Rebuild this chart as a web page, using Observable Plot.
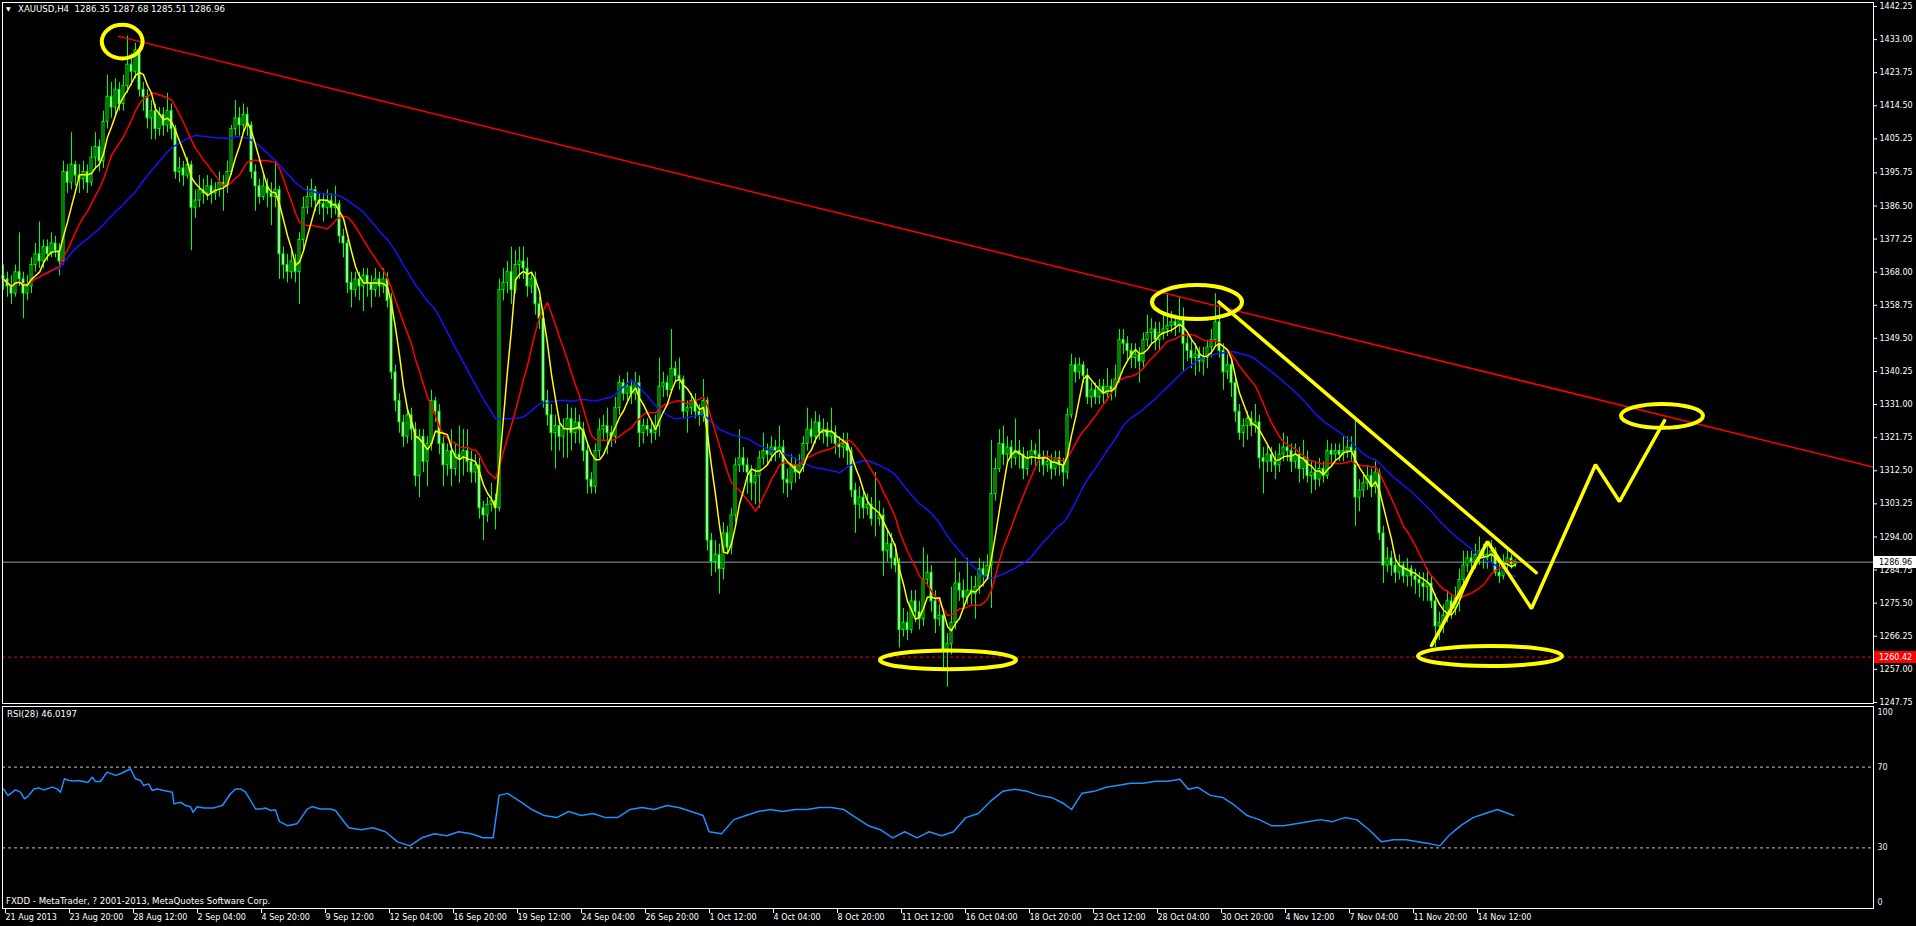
<!DOCTYPE html>
<html><head><meta charset="utf-8">
<script src="https://cdn.jsdelivr.net/npm/d3@7"></script>
<script src="https://cdn.jsdelivr.net/npm/@observablehq/plot@0.6"></script>
<style>
html,body{margin:0;padding:0;background:#000;}
#wrap{position:relative;width:1916px;height:926px;overflow:hidden;background:#000;font-family:"DejaVu Sans",sans-serif;}
#wrap svg{position:absolute;left:0;overflow:visible;}
.lbl{position:absolute;color:#fff;font-size:8.6px;white-space:pre;line-height:10px;font-family:"DejaVu Sans",sans-serif;}
</style></head><body><div id="wrap"></div>
<script>
// ---------- data (H4 bars, XAUUSD) ----------
const firstOpen = 1367;
const closes = [
1366,1364,1362,1368,1366,1362,1364,1370,1373,1371,
1375,1373,1376,1374,1371,1396,1393,1398,1395,1394,
1396,1393,1400,1403,1399,1410,1417,1414,1419,1415,
1420,1426,1424,1430,1419,1417,1411,1413,1408,1412,
1409,1413,1408,1396,1397,1395,1398,1386,1388,1391,
1390,1392,1390,1391,1393,1392,1396,1408,1411,1409,
1412,1409,1396,1392,1389,1392,1390,1389,1391,1373,
1370,1368,1371,1368,1377,1386,1389,1391,1388,1387,
1386,1388,1386,1387,1378,1376,1365,1363,1366,1364,
1367,1365,1363,1366,1364,1366,1360,1340,1332,1326,
1322,1328,1324,1311,1322,1315,1320,1332,1329,1320,
1314,1318,1313,1317,1316,1318,1315,1312,1314,1302,
1300,1303,1304,1302,1363,1365,1368,1363,1370,1371,
1369,1364,1366,1359,1355,1332,1328,1323,1325,1322,
1324,1327,1323,1326,1324,1318,1310,1308,1318,1324,
1325,1323,1322,1330,1337,1334,1336,1334,1337,1323,
1325,1324,1323,1325,1336,1337,1335,1341,1339,1338,
1329,1330,1332,1329,1328,1332,1293,1287,1289,1285,
1295,1291,1300,1314,1316,1314,1312,1309,1311,1316,
1318,1317,1319,1318,1319,1310,1309,1314,1312,1314,
1320,1324,1322,1326,1323,1324,1322,1323,1320,1319,
1320,1318,1307,1303,1305,1302,1303,1299,1299,1300,
1290,1292,1288,1286,1268,1270,1268,1276,1273,1271,
1282,1284,1276,1271,1272,1262,1264,1270,1281,1279,
1277,1279,1278,1280,1285,1283,1286,1306,1313,1320,
1317,1319,1316,1318,1317,1313,1316,1318,1317,1316,
1314,1315,1313,1316,1314,1312,1328,1342,1340,1342,
1339,1333,1335,1333,1336,1334,1336,1335,1338,1349,
1348,1346,1344,1345,1343,1349,1351,1352,1349,1351,
1352,1353,1354,1353,1355,1348,1346,1344,1345,1343,
1344,1347,1349,1354,1346,1340,1342,1337,1329,1323,
1325,1327,1325,1326,1316,1315,1317,1315,1314,1317,
1319,1318,1315,1317,1313,1316,1311,1312,1310,1313,
1311,1318,1317,1318,1317,1318,1319,1318,1305,1307,
1309,1311,1308,1312,1295,1286,1288,1286,1284,1286,
1283,1285,1283,1282,1281,1280,1281,1276,1269,1270,
1272,1276,1274,1277,1282,1286,1288,1287,1289,1290,
1288,1289,1290,1284,1283,1287,1288,1286.35,1286.96];
const highs = [
1370,1368,1367,1370,1379,1368,1367,1372,1376,1382,
1377,1377,1379,1378,1376,1399,1398,1407,1399,1398,
1399,1398,1403,1407,1405,1413,1423,1421,1422,1421,
1423,1434,1429,1432,1431,1421,1419,1416,1415,1414,
1414,1418,1415,1409,1400,1399,1400,1399,1391,1395,
1394,1395,1394,1393,1396,1395,1399,1409,1416,1414,
1415,1414,1410,1398,1394,1395,1394,1393,1399,1392,
1375,1373,1374,1373,1379,1389,1392,1394,1392,1390,
1390,1391,1390,1392,1388,1380,1377,1368,1368,1368,
1369,1369,1367,1369,1368,1369,1368,1362,1342,1334,
1328,1330,1330,1326,1324,1324,1322,1335,1333,1331,
1322,1320,1324,1320,1325,1324,1324,1318,1317,1316,
1304,1305,1309,1306,1366,1369,1371,1375,1374,1375,
1375,1372,1368,1368,1361,1357,1335,1331,1328,1327,
1327,1331,1330,1330,1328,1326,1320,1312,1320,1327,
1328,1330,1325,1333,1339,1338,1340,1338,1340,1339,
1327,1327,1326,1328,1344,1340,1339,1352,1343,1344,
1339,1332,1334,1334,1331,1338,1333,1295,1293,1292,
1298,1297,1302,1316,1324,1319,1316,1314,1313,1318,
1323,1320,1322,1321,1325,1321,1313,1317,1316,1317,
1322,1330,1327,1329,1328,1327,1326,1330,1325,1322,
1323,1323,1319,1309,1308,1307,1306,1305,1312,1304,
1302,1296,1295,1292,1288,1274,1273,1279,1279,1276,
1291,1289,1286,1279,1275,1274,1267,1280,1288,1284,
1282,1288,1283,1283,1288,1287,1289,1321,1316,1324,
1325,1322,1321,1327,1321,1319,1318,1321,1320,1324,
1318,1318,1317,1318,1318,1316,1330,1345,1344,1344,
1343,1341,1337,1337,1338,1338,1341,1338,1342,1352,
1352,1350,1348,1348,1347,1351,1356,1355,1354,1354,
1356,1362,1357,1356,1361,1358,1350,1349,1348,1347,
1347,1349,1352,1362,1360,1348,1345,1344,1339,1331,
1327,1329,1329,1331,1328,1319,1320,1319,1318,1320,
1323,1322,1320,1320,1319,1321,1318,1315,1315,1316,
1315,1321,1320,1320,1320,1322,1322,1322,1327,1310,
1312,1314,1313,1315,1313,1297,1291,1290,1288,1289,
1287,1288,1286,1285,1284,1284,1285,1283,1278,1273,
1275,1279,1278,1280,1285,1290,1290,1290,1292,1294,
1292,1292,1293,1291,1287,1289,1291,1289,1287.68];
const lows = [
1363,1361,1359,1361,1364,1355,1360,1362,1368,1369,
1369,1371,1372,1372,1367,1370,1390,1391,1392,1390,
1391,1390,1392,1397,1396,1397,1408,1411,1412,1413,
1413,1418,1420,1422,1417,1413,1408,1405,1405,1406,
1406,1407,1405,1394,1393,1392,1394,1374,1383,1386,
1387,1388,1387,1388,1389,1385,1390,1395,1406,1406,
1407,1406,1394,1385,1387,1388,1386,1381,1386,1366,
1366,1365,1366,1365,1359,1374,1384,1386,1385,1384,
1382,1384,1383,1384,1376,1372,1362,1358,1361,1360,
1357,1361,1358,1361,1361,1362,1358,1338,1329,1323,
1319,1320,1321,1308,1305,1312,1308,1318,1326,1317,
1308,1311,1308,1311,1309,1311,1312,1309,1309,1299,
1293,1298,1301,1296,1301,1360,1362,1359,1362,1366,
1366,1361,1362,1356,1352,1330,1325,1318,1313,1318,
1316,1316,1318,1320,1320,1315,1306,1306,1306,1316,
1321,1317,1319,1320,1328,1332,1332,1331,1332,1319,
1320,1322,1320,1321,1322,1333,1333,1334,1337,1335,
1327,1323,1328,1327,1325,1326,1290,1283,1284,1278,
1282,1289,1289,1298,1312,1312,1306,1304,1303,1302,
1314,1314,1315,1315,1316,1306,1305,1307,1309,1310,
1312,1318,1320,1320,1321,1320,1319,1320,1317,1316,
1316,1314,1305,1295,1299,1299,1300,1297,1294,1297,
1283,1287,1285,1284,1263,1266,1265,1267,1270,1268,
1269,1280,1273,1267,1269,1257,1252,1261,1268,1276,
1274,1275,1275,1271,1278,1280,1282,1274,1304,1312,
1314,1315,1313,1314,1313,1310,1311,1314,1313,1312,
1311,1312,1310,1311,1311,1308,1310,1327,1337,1338,
1337,1331,1330,1331,1331,1331,1332,1332,1333,1337,
1345,1343,1341,1341,1337,1341,1347,1348,1346,1346,
1349,1350,1351,1350,1351,1340,1343,1341,1339,1340,
1339,1341,1344,1347,1344,1335,1338,1333,1326,1321,
1319,1321,1322,1323,1313,1306,1312,1312,1310,1312,
1315,1315,1312,1313,1309,1310,1309,1306,1307,1308,
1309,1310,1314,1315,1315,1315,1316,1315,1297,1301,
1305,1307,1305,1306,1293,1281,1284,1283,1281,1282,
1281,1280,1280,1278,1277,1276,1276,1274,1263,1265,
1267,1270,1271,1272,1273,1280,1284,1284,1285,1286,
1285,1285,1287,1283,1281,1282,1285,1285,1285.51];

// RSI(28): bar position and value
const rsiBars = [0,1.1,3,4.25,5.25,6.3,7.6,8.8,10,12.2,13.4,14.25,15.25,16.3,17.6,18.8,21.1,22.2,23,24.25,25.9,28,29.25,31.75,33,34.25,35,36.3,37.2,38.4,40.1,42.2,42.6,44.25,45.5,46.75,47.4,48.4,50.1,52.6,54.7,56.75,58,59.25,60.5,61.75,63,64.25,65.5,66.75,68,69,71,73.4,76,77.2,79.25,81.75,83,84.25,86.3,89.4,92.4,95.5,98.5,101.6,104.6,107.7,110.8,113.8,116.9,119.9,122.4,123.9,126,129.1,132.1,135.2,138.3,141.3,144.4,147.4,150.5,153.5,156.6,159.6,162.7,165.8,168.8,171.9,174.9,176.4,179.5,182.6,185.6,188.7,191.7,194.8,197.8,200.9,204,207,210.1,213.1,216.2,219.2,222.3,225.3,228.4,231.4,234.5,237.5,240.6,243.7,246.7,249.8,252.8,255.9,258.9,262,265,267,269.6,272.7,275.7,278.8,281.8,284.9,288,291,294.1,296.2,298.6,301.7,304.8,307.8,310.9,313.9,317,320,323.1,326.1,329.2,332.2,335.3,338.3,341.4,344.5,347.5,350.6,353.6,356.7,359.1,361.3,364.3,367.4,370.4,373.5,377.5];
const rsiValues = [59.2,55.9,58.7,57.6,54.3,55.9,59.2,59.7,58.7,60.1,59.2,57.6,64.2,63.4,63.1,63.4,62.4,65,62.9,62.9,67.5,65.9,66.7,69.2,64.2,63.4,60.9,61.7,58.4,59.2,58.4,57.6,51.8,52.6,51,50.4,47.6,50.4,49.8,49.8,51,56.8,59.2,59.2,57.6,53.5,49.3,49.3,49.8,48.5,48.8,43,41,42,49.3,50.4,49.3,49.3,48.5,45.2,40,39,40,38,33,31,35,37,36,38,37,35,35,56,57,53,49,46,45,48,46,47,45,45,49,50,49,51,50,48,46,38,37,44,46,48,49,48,49,49,50,50,49,45,41,39,35,38,35,38,36,38,45,47,53,58,59,58,56,55,52,49,57,58,60,61,62,62,63,63,64,59,60,56,55,51,46,44,41,41,42,43,44,43,45,44,39,33,34,34,33,32,31,36,41,45,47,49,46.02];

const timeTickBars = [0,16,32,48,64,80,96,112,128,144,160,176,192,208,224,240,256,272,288,304,320,336,352,368];
const timeTickLabels = ["21 Aug 2013","23 Aug 20:00","28 Aug 12:00","2 Sep 04:00","4 Sep 20:00","9 Sep 12:00","12 Sep 04:00","16 Sep 20:00","19 Sep 12:00","24 Sep 04:00","26 Sep 20:00","1 Oct 12:00","4 Oct 04:00","8 Oct 20:00","11 Oct 12:00","16 Oct 04:00","18 Oct 20:00","23 Oct 12:00","28 Oct 04:00","30 Oct 20:00","4 Nov 12:00","7 Nov 04:00","11 Nov 20:00","14 Nov 12:00"];
const priceTicks = [1442.25,1433.00,1423.75,1414.50,1405.25,1395.75,1386.50,1377.25,1368.00,1358.75,1349.50,1340.25,1331.00,1321.75,1312.50,1303.25,1294.00,1284.75,1275.50,1266.25,1257.00,1247.75];
const rsiLevels = [70, 30];
const rsiScaleLabels = [100, 70, 30, 0];

const lastPrice = 1286.96;
const supportPrice = 1260.42;

// red resistance trendline (bar, price)
const trendBars = [28.8, 467.5];
const trendPrices = [1433.9, 1313.5];
// hand-drawn yellow lines
const yLineBars = [303.9, 383.2];
const yLinePrices = [1359.6, 1284.0];
const zigBars = [357, 371, 382, 398, 404, 415.25];
const zigPrices = [1263.65, 1292.7, 1274.0, 1314.2, 1303.9, 1326.5];
// yellow ellipses: centre (bar, price) and half extents (bars, price)
const ellBars = [29.8, 298.5, 236.25, 371.75, 414.75];
const ellPrices = [1432.3, 1359.5, 1259.5, 1260.6, 1327.7];
const ellHalfBars = [5.1, 11.25, 17, 18, 10.25];
const ellHalfPrices = [4.7, 4.75, 2.65, 2.8, 3.35];

// ---------- build ----------
const bars = closes.map((c, i) => ({i, o: i === 0 ? firstOpen : closes[i - 1], h: highs[i], l: lows[i], c}));
const trend = trendBars.map((b, k) => ({bar: b, price: trendPrices[k]}));
const yLine = yLineBars.map((b, k) => ({bar: b, price: yLinePrices[k]}));
const zig = zigBars.map((b, k) => ({bar: b, price: zigPrices[k]}));
const ells = ellBars.map((b, k) => ({bar: b, price: ellPrices[k], hb: ellHalfBars[k], hp: ellHalfPrices[k]}));
const rsiPts = rsiBars.map((b, k) => ({bar: b, v: rsiValues[k]}));
const labelOf = new Map(timeTickBars.map((b, k) => [b, timeTickLabels[k]]));

const xDomain = [-0.25, 467.5];
const FONT = "DejaVu Sans";
const W = 1916, MR = 43;

const ellipseMark = (index, scales) => {
  const g = d3.create("svg:g");
  for (const e of ells) {
    const cx = scales.x(e.bar), cy = scales.y(e.price);
    g.append("ellipse").attr("cx", cx).attr("cy", cy)
      .attr("rx", Math.abs(scales.x(e.bar + e.hb) - cx))
      .attr("ry", Math.abs(scales.y(e.price + e.hp) - cy))
      .attr("fill", "none").attr("stroke", "#ffff00").attr("stroke-width", 4);
  }
  return g.node();
};
const tagMark = (index, scales, values, dim) => {
  const g = d3.create("svg:g");
  const x0 = dim.width - dim.marginRight + 1;
  for (const t of [{p: lastPrice, bg: "#ffffff", fg: "#000000"}, {p: supportPrice, bg: "#ff0000", fg: "#ffffff"}]) {
    const y = Math.round(scales.y(t.p));
    g.append("rect").attr("x", x0).attr("y", y - 6).attr("width", dim.marginRight).attr("height", 12).attr("fill", t.bg);
    g.append("text").attr("x", x0 + 5).attr("y", y).attr("dy", "0.35em").attr("fill", t.fg)
      .attr("text-anchor", "start").attr("font-size", 8).attr("font-family", FONT).text(t.p.toFixed(2));
  }
  return g.node();
};

const main = Plot.plot({
  width: W, height: 714,
  marginLeft: 2, marginRight: MR, marginTop: 2, marginBottom: 11,
  style: {background: "#000", color: "#fff", fontFamily: FONT, fontSize: "8px", overflow: "visible"},
  x: {domain: xDomain, axis: null},
  y: {domain: [1247.45, 1443.37], axis: null},
  color: {type: "identity"},
  marks: [
    Plot.axisY({anchor: "right", ticks: priceTicks, tickFormat: d => d.toFixed(2), tickSize: 3, tickPadding: 3, color: "#fff", label: null}),
    Plot.ruleY([lastPrice], {stroke: "#98a2b6"}),
    Plot.ruleY([supportPrice], {stroke: "#ff0000", strokeDasharray: "3,3"}),
    Plot.ruleX(bars, {x: "i", y1: "l", y2: "h", stroke: "#00ff00"}),
    Plot.rect(bars, {x1: d => d.i - 0.25, x2: d => d.i + 0.25, y1: "o", y2: "c", fill: d => d.c >= d.o ? "#000000" : "#ffffff", stroke: "#00ff00"}),
    Plot.lineY(bars, Plot.windowY({k: 34, anchor: "end"}, {x: "i", y: "c", stroke: "#1414ff"})),
    Plot.lineY(bars, Plot.windowY({k: 13, anchor: "end"}, {x: "i", y: "c", stroke: "#ff0000"})),
    Plot.lineY(bars, Plot.windowY({k: 5, anchor: "end"}, {x: "i", y: "c", stroke: "#ffff00"})),
    Plot.line(trend, {x: "bar", y: "price", stroke: "#ff0000", clip: true}),
    Plot.line(yLine, {x: "bar", y: "price", stroke: "#ffff00", strokeWidth: 3.5}),
    Plot.line(zig, {x: "bar", y: "price", stroke: "#ffff00", strokeWidth: 3.5, strokeLinejoin: "miter"}),
    ellipseMark,
    tagMark,
    Plot.frame({stroke: "#fff"})
  ]
});
main.style.top = "0px";

const rsi = Plot.plot({
  width: W, height: 221,
  marginLeft: 2, marginRight: MR, marginTop: 1, marginBottom: 18,
  style: {background: "#000", color: "#fff", fontFamily: FONT, fontSize: "8px", overflow: "visible"},
  x: {domain: xDomain, axis: null},
  y: {domain: [0, 100], axis: null},
  marks: [
    Plot.ruleY(rsiLevels, {stroke: "#c8c8c8", strokeDasharray: "3,3"}),
    Plot.line(rsiPts, {x: "bar", y: "v", stroke: "#1e90ff"}),
    Plot.text(rsiScaleLabels.filter(d => d === 100), {y: d => d, text: d => String(d), frameAnchor: "right", textAnchor: "start", dx: 4, dy: 6, fill: "#e8eeff"}),
    Plot.text(rsiScaleLabels.filter(d => d > 0 && d < 100), {y: d => d, text: d => String(d), frameAnchor: "right", textAnchor: "start", dx: 4, fill: "#e8eeff"}),
    Plot.text(rsiScaleLabels.filter(d => d === 0), {y: d => d, text: d => String(d), frameAnchor: "right", textAnchor: "start", dx: 4, dy: -6, fill: "#e8eeff"}),
    Plot.axisX({anchor: "bottom", ticks: timeTickBars, tickFormat: d => labelOf.get(d), tickSize: 5, tickPadding: 1, textAnchor: "start", dx: 2, color: "#fff", label: null}),
    Plot.frame({stroke: "#fff"})
  ]
});
rsi.style.top = "705px";

const wrap = document.getElementById("wrap");
wrap.appendChild(rsi);
wrap.appendChild(main);
// keep the RSI frame top line visible above the main panel's lower margin
main.style.clipPath = "inset(0 0 0 0)";
main.style.height = "714px";
rsi.style.zIndex = "1";
main.style.zIndex = "2";
main.style.background = "transparent";

function addLabel(text, left, top, size) {
  const d = document.createElement("div");
  d.className = "lbl"; d.textContent = text;
  d.style.left = left + "px"; d.style.top = top + "px";
  d.style.zIndex = "3";
  if (size) d.style.fontSize = size + "px";
  wrap.appendChild(d);
}
addLabel("\u25BC", 6, 4, 6);
addLabel("XAUUSD,H4  1286.35 1287.68 1285.51 1286.96", 18, 4);
addLabel("RSI(28) 46.0197", 7, 709);
addLabel("FXDD - MetaTrader, ? 2001-2013, MetaQuotes Software Corp.", 6, 896);
</script></body></html>
